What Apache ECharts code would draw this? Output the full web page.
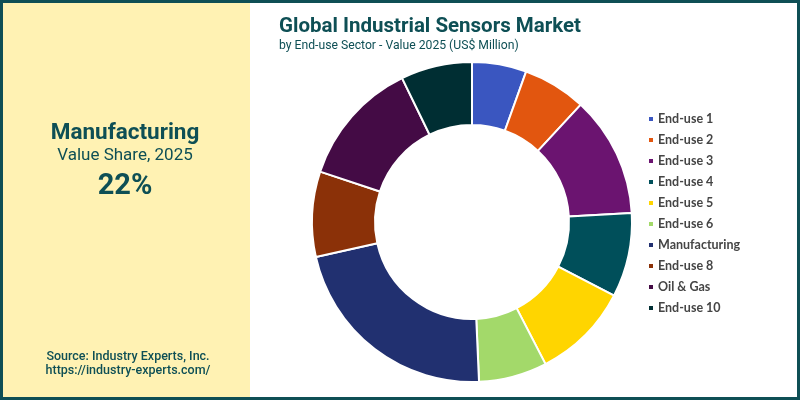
<!DOCTYPE html>
<html>
<head>
<meta charset="utf-8">
<script src="https://cdn.jsdelivr.net/npm/echarts@6/dist/echarts.min.js"></script>
<style>
  html, body { margin: 0; padding: 0; background: #fff; }
  #main { width: 800px; height: 400px; }
</style>
</head>
<body>
<div id="main"></div>
<script>
/* end-use sectors, share of 2025 value (%) */
var sectors = ['End-use 1', 'End-use 2', 'End-use 3', 'End-use 4', 'End-use 5',
               'End-use 6', 'Manufacturing', 'End-use 8', 'Oil & Gas', 'End-use 10'];
var shares = [5.5, 6.4, 12.2, 8.5, 9.8, 6.9, 22.2, 8.6, 12.7, 7.2];
var sliceColors = ['#3a56c0', '#e2560f', '#6b1470', '#004f5a', '#ffd500',
                   '#a3d96a', '#213070', '#8b3108', '#440b45', '#002e33'];

var teal = '#0e4f55';
var chart = echarts.init(document.getElementById('main'));

chart.setOption({
    title: {
        text: 'Global Industrial Sensors Market',
        subtext: 'by End-use Sector - Value 2025 (US$ Million)',
        left: 274,
        top: 11,
        itemGap: 3,
        textStyle: { fontFamily: 'Roboto', fontWeight: 'bold', fontSize: 20.5, color: teal },
        subtextStyle: { fontFamily: 'Roboto', fontSize: 12.2, color: teal }
    },
    legend: {
        orient: 'vertical',
        left: 642,
        top: 107,
        icon: 'rect',
        itemWidth: 6,
        itemHeight: 6,
        itemGap: 7,
        data: sectors,
        textStyle: { fontFamily: 'Lato', fontWeight: 'bold', fontSize: 12.5, lineHeight: 14, color: '#454545', padding: [0, 0, 0, -1] }
    },
    graphic: [
        // outer frame + yellow side panel
        { type: 'rect', shape: { x: 0, y: 0, width: 800, height: 400 }, style: { fill: '#fff', stroke: teal, lineWidth: 6 }, z: -10 },
        { type: 'rect', shape: { x: 3, y: 3, width: 247, height: 394 }, style: { fill: '#fff2b3' }, z: -9 },
        { type: 'text', style: { text: 'Manufacturing', x: 125, y: 133, align: 'center', verticalAlign: 'middle', font: 'bold 22.5px Roboto', fill: teal } },
        { type: 'text', style: { text: 'Value Share, 2025', x: 125, y: 156, align: 'center', verticalAlign: 'middle', font: '17px Roboto', fill: teal } },
        { type: 'text', style: { text: '22%', x: 125, y: 187, align: 'center', verticalAlign: 'middle', font: 'bold 29px Roboto', fill: teal } },
        { type: 'text', style: { text: 'Source: Industry Experts, Inc.', x: 128, y: 357, align: 'center', verticalAlign: 'middle', font: '500 12.5px Roboto', fill: teal } },
        { type: 'text', style: { text: 'https://industry-experts.com/', x: 128, y: 371, align: 'center', verticalAlign: 'middle', font: '500 12.5px Roboto', fill: teal } }
    ],
    series: [{
        type: 'pie',
        center: [472, 222],
        radius: [97, 160],
        startAngle: 90,
        clockwise: true,
        label: { show: false },
        labelLine: { show: false },
        itemStyle: { borderColor: '#fff', borderWidth: 2 },
        emphasis: { disabled: true },
        data: sectors.map(function (name, i) {
            return { name: name, value: shares[i], itemStyle: { color: sliceColors[i] } };
        })
    }]
});
</script>
</body>
</html>
